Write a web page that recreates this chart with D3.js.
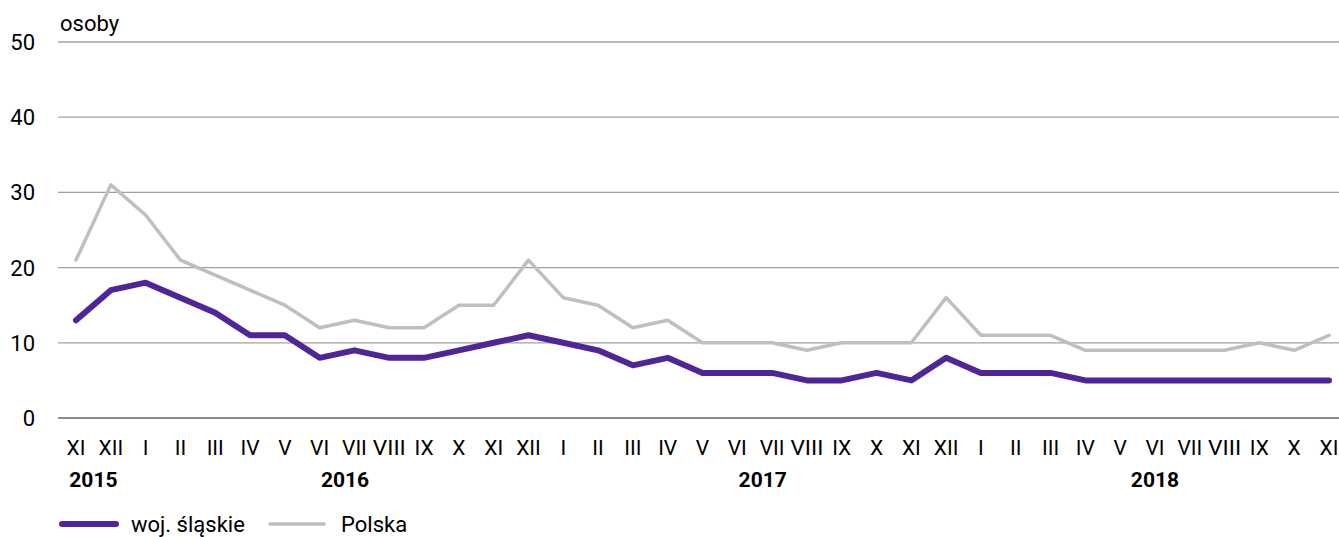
<!DOCTYPE html>
<html><head><meta charset="utf-8">
<script src="https://cdn.jsdelivr.net/npm/d3@7"></script>
<style>body{margin:0;background:#fff}svg{display:block}text{font-family:"Roboto",sans-serif;fill:#000}</style>
</head><body><svg id="c" width="1339" height="537"></svg>
<script>
const months = ["XI","XII","I","II","III","IV","V","VI","VII","VIII","IX","X","XI","XII","I","II","III","IV","V","VI","VII","VIII","IX","X","XI","XII","I","II","III","IV","V","VI","VII","VIII","IX","X","XI"];
const years = [{label:"2015",from:0,to:1},{label:"2016",from:2,to:13},{label:"2017",from:14,to:25},{label:"2018",from:26,to:36}];
const slaskie = [13,17,18,16,14,11,11,8,9,8,8,9,10,11,10,9,7,8,6,6,6,5,5,6,5,8,6,6,6,5,5,5,5,5,5,5,5];
const polska = [21,31,27,21,19,17,15,12,13,12,12,15,15,21,16,15,12,13,10,10,10,9,10,10,10,16,11,11,11,9,9,9,9,9,10,9,11];
const yTicks = [0,10,20,30,40,50];
const seriesNames = ["woj. śląskie","Polska"];
const colors = ["#51259a","#bfbfbf"];

const svg = d3.select("#c");
const x = d3.scalePoint().domain(d3.range(months.length)).range([76,1329]);
const y = d3.scaleLinear().domain([0,50]).range([418,42]);

const grid = svg.append("g");
grid.selectAll("line").data(yTicks).join("line")
  .attr("x1",58).attr("x2",1339).attr("y1",d=>y(d)).attr("y2",d=>y(d))
  .attr("stroke",d=>d===0?"#8c8c8c":"#a0a0a0").attr("stroke-width",d=>d===0?2:1.3);
svg.append("g").selectAll("text").data(yTicks).join("text")
  .attr("x",35).attr("y",d=>y(d)+8).attr("text-anchor","end").attr("font-size",22).text(d=>d);
svg.append("text").attr("x",60).attr("y",31).attr("font-size",22).text("osoby");

svg.append("g").selectAll("text").data(months).join("text")
  .attr("x",(d,i)=>x(i)).attr("y",455).attr("text-anchor","middle").attr("font-size",21)
  .attr("textLength",d=>d.length>3?33:null).attr("lengthAdjust","spacingAndGlyphs").text(d=>d);
svg.append("g").selectAll("text").data(years).join("text")
  .attr("x",d=>(x(d.from)+x(d.to))/2 + (d.to-d.from===11 ? 8 : 0)).attr("y",487).attr("text-anchor","middle")
  .attr("font-size",21).attr("font-weight","bold").text(d=>d.label);

const line = d3.line().x((d,i)=>x(i)).y(d=>y(d));
svg.append("path").datum(polska).attr("d",line).attr("fill","none")
  .attr("stroke",colors[1]).attr("stroke-width",3.5).attr("stroke-linejoin","round").attr("stroke-linecap","round");
svg.append("path").datum(slaskie).attr("d",line).attr("fill","none")
  .attr("stroke",colors[0]).attr("stroke-width",6).attr("stroke-linejoin","round").attr("stroke-linecap","round");

const leg = [{x:62,tx:131,w:6},{x:270,tx:341,w:3.5}];
leg.forEach((l,i)=>{
  svg.append("line").attr("x1",l.x).attr("x2",l.x+54).attr("y1",524).attr("y2",524)
    .attr("stroke",colors[i]).attr("stroke-width",l.w).attr("stroke-linecap","round");
  svg.append("text").attr("x",l.tx).attr("y",532).attr("font-size",22).text(seriesNames[i]);
});
</script></body></html>
